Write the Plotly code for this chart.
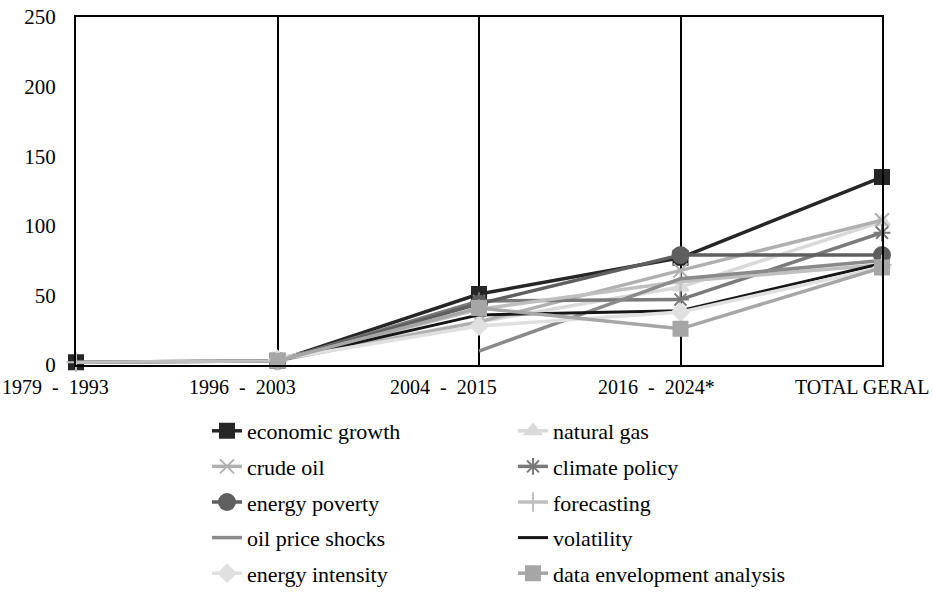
import plotly.graph_objects as go

categories = ["1979 - 1993", "1996 - 2003", "2004 - 2015", "2016 - 2024*", "TOTAL GERAL"]

economic_growth = [2, 3, 51, 77, 135]
natural_gas = [None, 5, 31, 56, 103]
crude_oil = [None, 3, 31, 68, 104]
climate_policy = [None, 3, 46, 47, 95]
energy_poverty = [None, 3, 44, 79, 79]
forecasting = [2, 3, 40, 60, 72]
oil_price_shocks = [None, None, 10, 62, 75]
volatility = [None, 3, 36, 39, 73]
energy_intensity = [None, 4, 28, 38, 70]
data_envelopment_analysis = [None, 3, 41, 26, 70]

y_ticks = [0, 50, 100, 150, 200, 250]

# name, values, color, marker symbol, marker size, legend column
series = [
    ("economic growth", economic_growth, "#262626", "square", 14, "legend"),
    ("natural gas", natural_gas, "#d9d9d9", "triangle-up", 14, "legend2"),
    ("crude oil", crude_oil, "#b0b0b0", "x-thin-open", 14, "legend"),
    ("climate policy", climate_policy, "#7a7a7a", "asterisk-open", 14, "legend2"),
    ("energy poverty", energy_poverty, "#5f5f5f", "circle", 16, "legend"),
    ("forecasting", forecasting, "#bfbfbf", "cross-thin-open", 14, "legend2"),
    ("oil price shocks", oil_price_shocks, "#8a8a8a", None, 0, "legend"),
    ("volatility", volatility, "#151515", None, 0, "legend2"),
    ("energy intensity", energy_intensity, "#e0e0e0", "diamond", 13, "legend"),
    ("data envelopment analysis", data_envelopment_analysis, "#a6a6a6", "square", 14, "legend2"),
]

fig = go.Figure()
for name, vals, color, sym, size, leg in series:
    if sym is None:
        mode = "lines"
        marker = dict()
    else:
        mode = "lines+markers"
        marker = dict(symbol=sym, size=size, color=color,
                      line=dict(color=color, width=2))
    fig.add_trace(go.Scatter(
        x=categories, y=vals, name=name, mode=mode,
        line=dict(color=color, width=3.5 if name != "volatility" else 3),
        marker=marker, legend=leg, legendgroup=name, cliponaxis=False,
    ))

font_family = "Liberation Serif, Times New Roman, serif"

label_shifts = [-21, -35, -36, -24, -20]
for cat, dx in zip(categories, label_shifts):
    shown = cat.replace(" - ", " \u00a0-\u00a0 ")
    fig.add_annotation(x=cat, y=0, xref="x", yref="paper", text=shown,
                       showarrow=False, yanchor="top", xanchor="center",
                       xshift=dx, yshift=-9,
                       font=dict(family=font_family, size=20, color="black"))

leg_common = dict(yref="container", y=1 - 410 / 594, xanchor="left", yanchor="top",
                  orientation="v", traceorder="grouped", tracegroupgap=4,
                  font=dict(family=font_family, size=22, color="black"),
                  bgcolor="rgba(0,0,0,0)")

fig.update_layout(
    width=933, height=594,
    margin=dict(l=76, r=51, t=17, b=229),
    paper_bgcolor="white", plot_bgcolor="white",
    font=dict(family=font_family, size=20, color="black"),
    showlegend=True,
    legend=dict(x=(207 - 76) / 806, **leg_common),
    legend2=dict(x=(513 - 76) / 806, **leg_common),
)

fig.update_xaxes(
    type="category", range=[0, 4], showgrid=True, gridcolor="black", gridwidth=1.5,
    showline=True, linecolor="black", linewidth=2, mirror=True,
    showticklabels=False, ticks="", zeroline=False, automargin=False,
)
fig.update_yaxes(
    range=[0, 250], tickvals=y_ticks, showgrid=False,
    showline=True, linecolor="black", linewidth=2, mirror=True,
    ticks="", ticklabelstandoff=14, zeroline=False, automargin=False,
    tickfont=dict(family=font_family, size=21, color="black"),
)

fig.write_html(
    "out.html",
    config={"displayModeBar": False},
    post_script="document.body.style.margin='0';document.body.style.overflow='hidden';",
)
